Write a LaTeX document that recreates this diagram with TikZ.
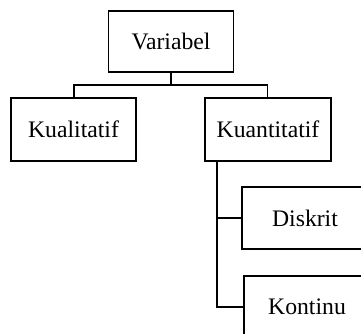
\documentclass[tikz,border=0pt]{standalone}
\usepackage{fontspec}
\setmainfont{Liberation Serif}
\begin{document}
\begin{tikzpicture}[x=1pt,y=1pt,
  box/.style={draw,line width=1.3pt,minimum width=126pt,inner sep=0pt,font=\fontsize{23.7}{28}\selectfont},
  conn/.style={line width=1.3pt}]
\useasboundingbox (0,0) rectangle (361,333);
\clip (0,0) rectangle (361,333);
\node[box,minimum height=61pt,minimum width=125pt] (var) at (171,291.5) {Variabel};
\node[box,minimum height=63pt,minimum width=125pt] (kual) at (73.5,203.5) {Kualitatif};
\node[box,minimum height=63pt] (kuan) at (268,203.5) {Kuantitatif};
\node[box,minimum height=62pt] (disk) at (305,115) {Diskrit};
\node[box,minimum height=62pt] (kont) at (307,26) {Kontinu};
\coordinate (j) at (171,248);
\coordinate (t) at (217,171);
\draw[conn] (var.south) -- (j);
\draw[conn] ([xshift=0.5pt]kual.north) |- (j) -| ([xshift=-0.5pt]kuan.north);
\draw[conn] (t) |- (kont.west);
\draw[conn] (t |- disk.west) -- (disk.west);
\end{tikzpicture}
\end{document}
